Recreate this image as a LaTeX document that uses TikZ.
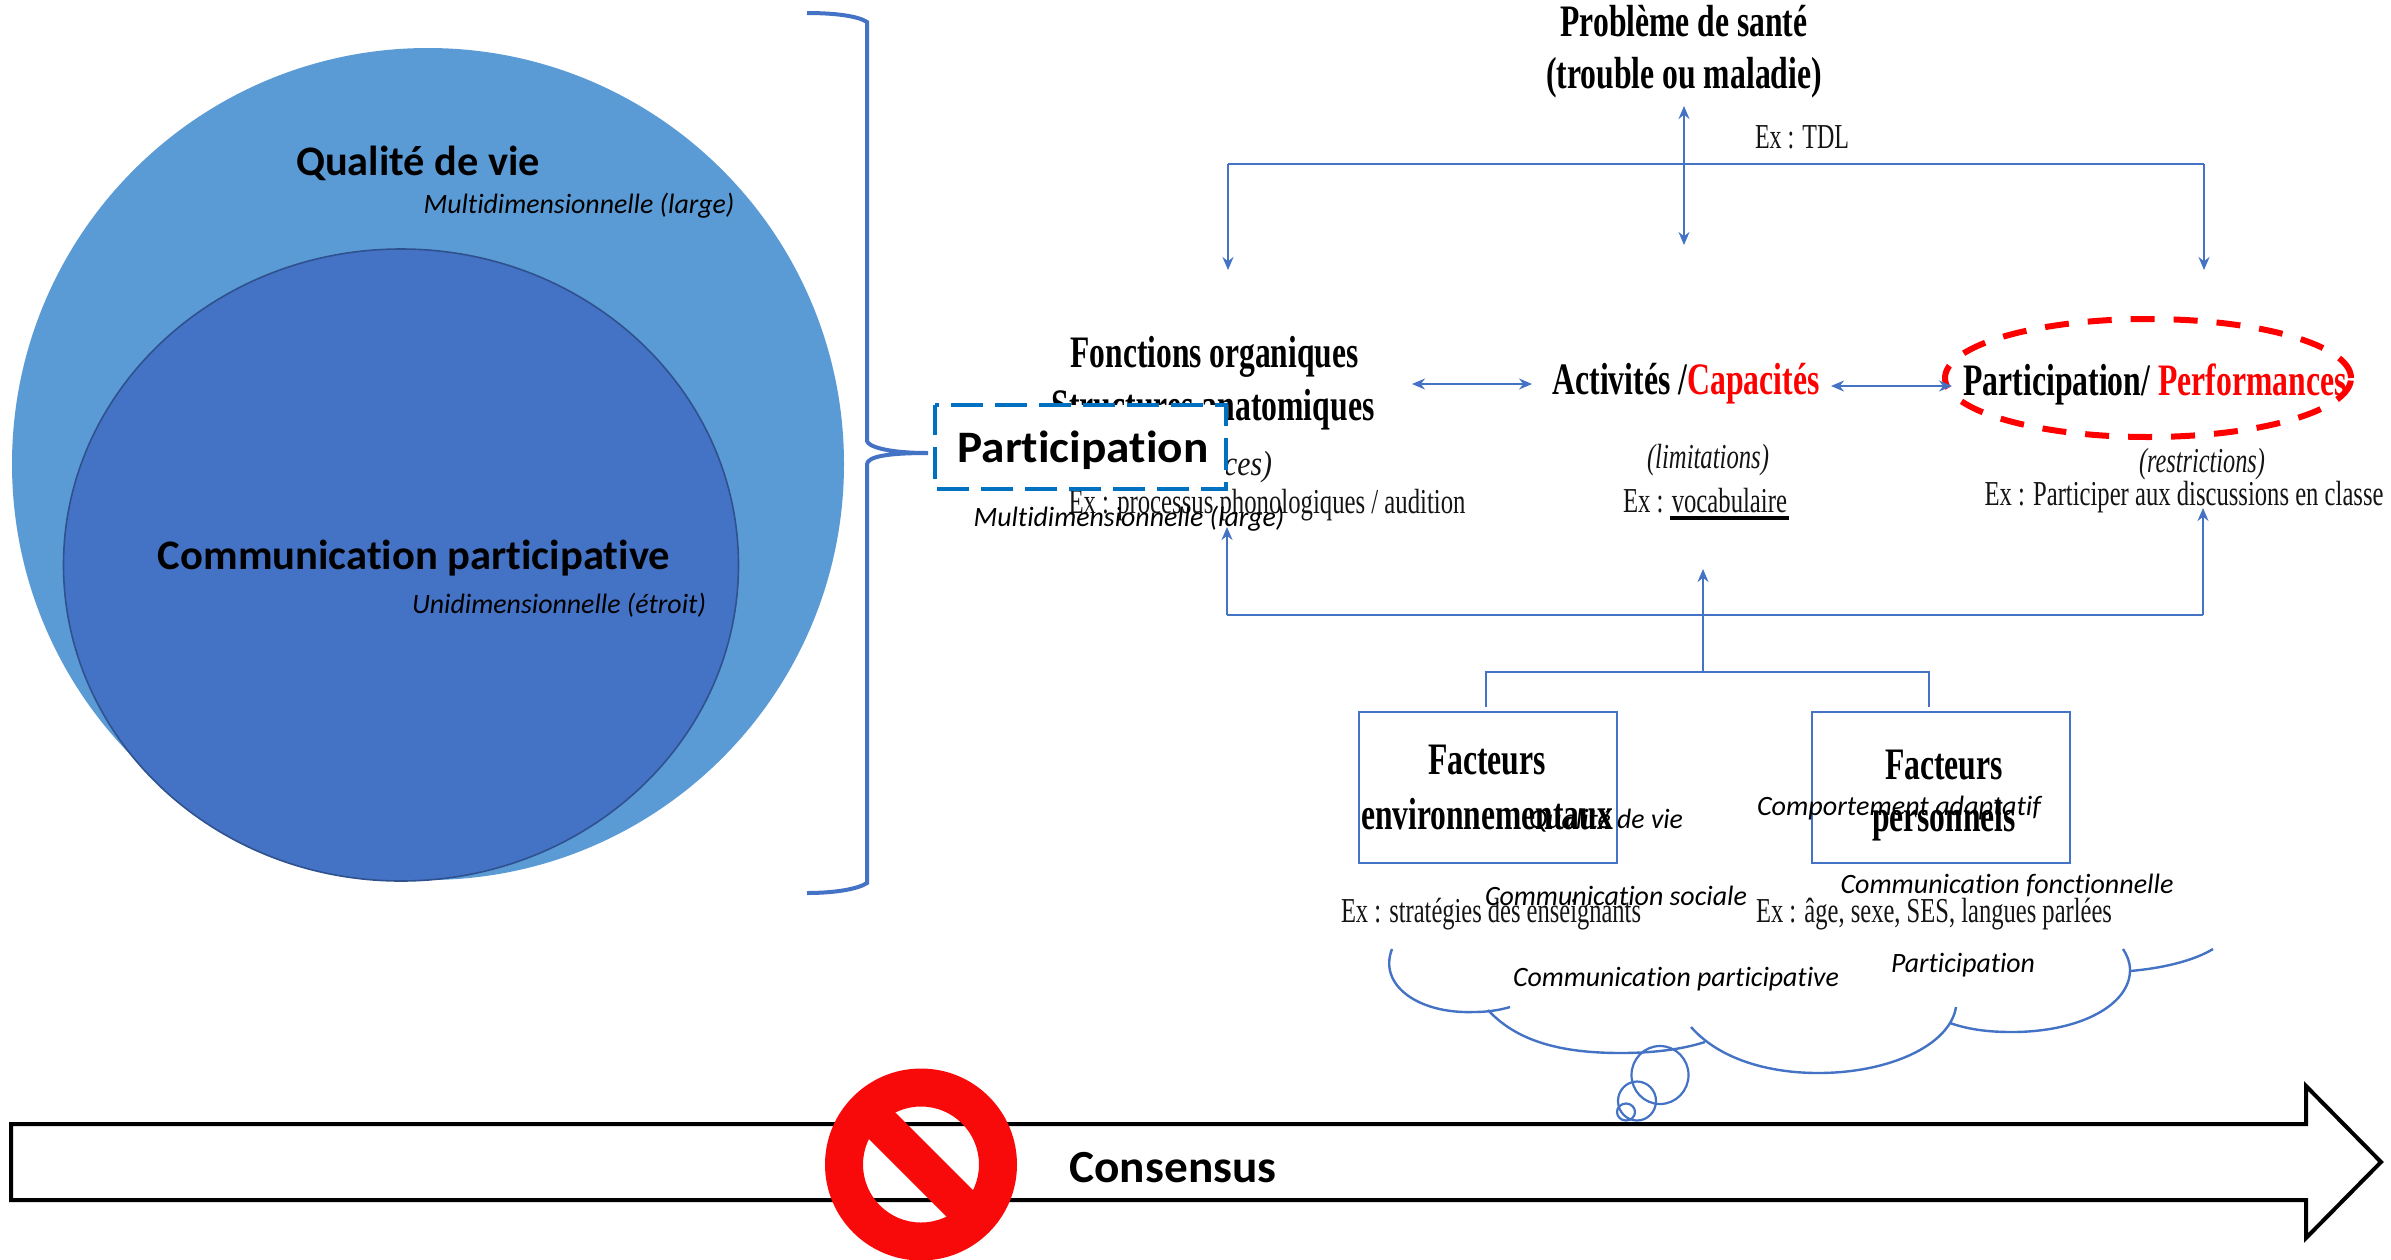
\documentclass[tikz,border=0pt]{standalone}
\usepackage{fontspec}
\usepackage{graphicx}
\usetikzlibrary{arrows.meta,shapes.geometric}
\setmainfont{Liberation Serif}
\newfontfamily\calib[Ligatures={NoCommon,NoDiscretionary}]{Carlito}
\definecolor{lb}{HTML}{5B9BD5}
\definecolor{db}{HTML}{4472C4}
\definecolor{ol}{HTML}{2F528F}
\definecolor{dashc}{HTML}{0070C0}
\definecolor{nored}{HTML}{F90A0A}
\newcommand{\fw}[2]{\resizebox{#1pt}{\height}{#2}}
\tikzset{
 x=1pt,y=-1pt,
 inner sep=0pt, outer sep=0pt,
 ser/.style={font=\fontsize{45}{50}\selectfont\bfseries,text=black},
 serex/.style={font=\fontsize{35}{38}\selectfont,text=black!92},
 serit/.style={font=\fontsize{35}{38}\selectfont\itshape,text=black!92},
 itl/.style={font=\calib\fontsize{28}{32}\selectfont\itshape,text=black},
 bld/.style={font=\calib\fontsize{42}{46}\selectfont\bfseries,text=black},
 conn/.style={draw=db,line width=1.8pt},
 tipa/.style={conn,-{Stealth[length=13pt,width=11pt]}},
 ttip/.style={conn,{Stealth[length=13pt,width=11pt]}-{Stealth[length=13pt,width=11pt]}},
 facbox/.style={draw=db,line width=2pt,minimum width=258pt,minimum height=151pt},
 cloudl/.style={draw=db,line width=2.4pt},
 puff/.style={draw=db,line width=2.2pt,ellipse},
}
\begin{document}
\begin{tikzpicture}
\useasboundingbox (0,0) rectangle (2391,1259);
\fill[white] (0,0) rectangle (2391,1259);
% circles
\node[ellipse,fill=lb,minimum width=832pt,minimum height=832pt] (outer) at (428,464) {};
\node[ellipse,fill=db,draw=ol,line width=1.6pt,minimum width=675pt,minimum height=632pt] (inner) at (401,565) {};
\node[bld] (qdv) at (418,163) {\fw{244}{Qualité de vie}};
\node[itl] (qdvs) at (579,206) {\fw{311}{Multidimensionnelle (large)}};
\node[bld] (cp) at (414,558) {\fw{512}{Communication participative}};
\node[itl] (cps) at (559,605) {\fw{294}{Unidimensionnelle (étroit)}};
% brace
\coordinate (bt) at (807,13); \coordinate (bm) at (928,453); \coordinate (bb) at (807,893);
\draw[db,line width=4pt] (bt) .. controls (835,13) and (858,16) .. (867,22) -- (867,441) .. controls (868,446) and (885,453) .. (bm) .. controls (885,453) and (868,457) .. (867,464) -- (867,883) .. controls (858,889) and (835,893) .. (bb);
% ICF text
\node[ser] (pb) at (1684,21) {\fw{247}{Problème de santé}};
\node[ser] (tm) at (1684,78) {\fw{276}{(trouble ou maladie)}};
\node[serex] (tdl) at (1802,137) {\fw{94}{Ex : TDL}};
\node[ser] (fo) at (1214.5,357) {\fw{288}{Fonctions organiques}};
\node[ser] (sa) at (1213,410) {\fw{323}{Structures anatomiques}};
\node[serit] (def) at (1196,467) {\fw{152}{(déficiences)}};
\node[serex] (exf) at (1267,505) {\fw{397}{Ex : processus phonologiques / audition}};
\node[ser] (act) at (1686,384) {\fw{267}{Activités /\textcolor{red}{Capacités}}};
\node[serit] (lim) at (1708,460) {\fw{122}{(limitations)}};
\node[serex] (exa) at (1705,501) {\fw{164}{Ex : vocabulaire}};
\coordinate (ula) at (1670,518); \coordinate (ulb) at (1789,518);
\draw[black,line width=3.5pt] (ula) -- (ulb);
\node[ser] (part) at (2155,384) {\fw{383}{Participation/ \textcolor{red}{Performances}}};
\node[serit] (res) at (2202,464) {\fw{126}{(restrictions)}};
\node[serex] (exp) at (2184,497) {\fw{399}{Ex : Participer aux discussions en classe}};
\node[draw=red,line width=6pt,ellipse,dash pattern=on 24pt off 19pt,minimum width=406pt,minimum height=118pt] (redel) at (2148,378) {};
% connectors top
\coordinate (top) at (1684,106);
\coordinate (hl) at (1228,164); \coordinate (hr) at (2204,164);
\coordinate (dl) at (1228,270); \coordinate (dr) at (2204,270); \coordinate (dm) at (1684,245);
\draw[conn] (hl) -- (hr);
\draw[tipa] (hl) -- (dl);
\draw[tipa] (hr) -- (dr);
\draw[ttip] (top) -- (dm);
\coordinate (a1) at (1412,384); \coordinate (a2) at (1532,384);
\coordinate (a3) at (1831,386); \coordinate (a4) at (1952,386);
\draw[ttip] (a1) -- (a2);
\draw[ttip] (a3) -- (a4);
% connectors bottom
\coordinate (bl) at (1227,615); \coordinate (br) at (2203,615);
\coordinate (ul) at (1227,527); \coordinate (ur) at (2203,508); \coordinate (um) at (1703,569);
\draw[conn] (bl) -- (br);
\draw[tipa] (bl) -- (ul);
\draw[tipa] (br) -- (ur);
\coordinate (fork) at (1703,672);
\draw[tipa] (fork) -- (um);
\coordinate (fl) at (1486,672); \coordinate (fr) at (1929,672);
\coordinate (fl2) at (1486,707); \coordinate (fr2) at (1929,707);
\draw[conn] (fl2) -- (fl) -- (fr) -- (fr2);
% participation box
\node[fill=white,minimum width=291pt,minimum height=84pt] (pbox) at (1080.5,447) {};
\draw[dashc,line width=4pt,dash pattern=on 32pt off 12pt,dash phase=28pt] (pbox.north west) -- (pbox.north east) -- (pbox.south east) -- (pbox.south west) -- cycle;
\node[bld,font=\calib\fontsize{45}{50}\selectfont\bfseries] (ptxt) at (1083,450) {\fw{251}{Participation}};
\node[itl] (ms) at (1129,519) {\fw{311}{Multidimensionnelle (large)}};
% facteurs
\node[facbox] (fe) at (1488,787) {};
\node[facbox] (fp) at (1940.5,787) {};
\node[ser] at (1487,760) (fe1) {\fw{118}{Facteurs}};
\node[ser] at (1487,814) (fe2) {\fw{252}{environnementaux}};
\node[ser] at (1944,765) (fp1) {\fw{118}{Facteurs}};
\node[ser] at (1944,821) (fp2) {\fw{144}{personnels}};
\node[serex] at (1491,914) (exe) {\fw{300}{Ex : stratégies des enseignants}};
\node[serex] at (1934,914) (exg) {\fw{356}{Ex : âge, sexe, SES, langues parlées}};
% cloud labels
\node[itl] (l1) at (1606,821) {\fw{154}{Qualité de vie}};
\node[itl] (l2) at (1899,808) {\fw{284}{Comportement adaptatif}};
\node[itl] (l3) at (1616,896) {\fw{262}{Communication sociale}};
\node[itl] (l4) at (2007,885) {\fw{333}{Communication fonctionnelle}};
\node[itl] (l5) at (1676,979) {\fw{326}{Communication participative}};
\node[itl] (l6) at (1963,965) {\fw{144}{Participation}};
% cloud arcs
\draw[cloudl] (1392,949) .. controls (1378,985) and (1418,1014) .. (1474,1012) .. controls (1488,1012) and (1500,1010) .. (1510,1007);
\draw[cloudl] (1488,1010) .. controls (1520,1045) and (1570,1053) .. (1621,1053) .. controls (1650,1053) and (1680,1050) .. (1705,1042);
\draw[cloudl] (1691,1027) .. controls (1720,1060) and (1770,1073) .. (1818,1073) .. controls (1890,1073) and (1950,1045) .. (1956,1007);
\draw[cloudl] (1950,1023) .. controls (1970,1030) and (1990,1032) .. (2012,1032) .. controls (2080,1032) and (2130,1005) .. (2130,970) .. controls (2130,962) and (2127,955) .. (2123,949);
\draw[cloudl] (2130,971) .. controls (2165,968) and (2195,960) .. (2213,949);
\node[puff,minimum width=57pt,minimum height=58pt] (e1) at (1660,1075) {};
\node[puff,minimum width=38pt,minimum height=39pt] (e2) at (1637,1101) {};
\node[puff,minimum width=18pt,minimum height=17pt] (e3) at (1626,1112) {};
% big arrow
\draw[black,line width=4pt,fill=white,line join=miter] (11,1124) -- (2306,1124) -- (2306,1086) -- (2381,1162) -- (2306,1238) -- (2306,1200) -- (11,1200) -- cycle;
\node[bld,font=\calib\fontsize{46}{50}\selectfont\bfseries] (cons) at (1173,1168) {\fw{207}{Consensus}};
% no symbol
\fill[nored,even odd rule] (921,1164.5) circle (96) (921,1164.5) circle (58);
\fill[nored] (885,1102) -- (984,1201) -- (957,1227) -- (858,1128) -- cycle;
\end{tikzpicture}
\end{document}
